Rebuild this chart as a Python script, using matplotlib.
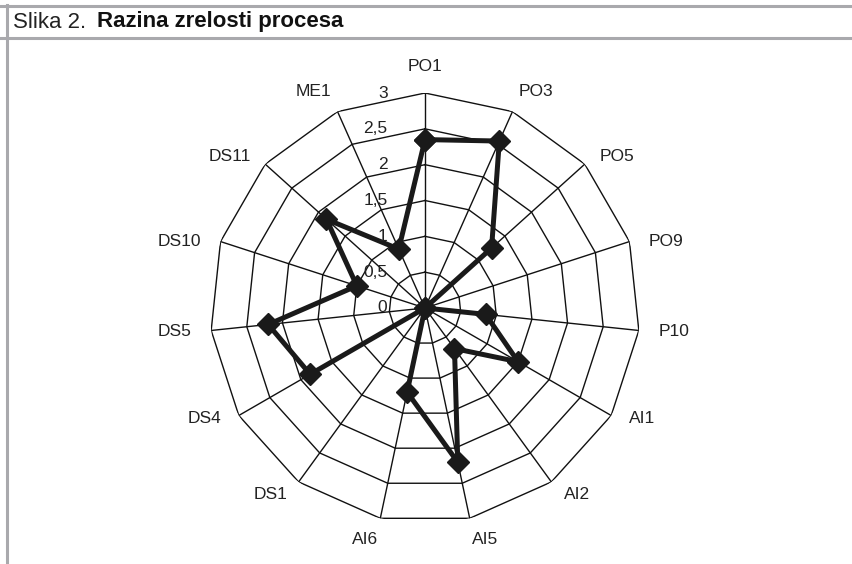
import numpy as np
import matplotlib
matplotlib.use("Agg")
import matplotlib.pyplot as plt
from matplotlib.lines import Line2D

categories = ["PO1", "PO3", "PO5", "PO9", "P10", "AI1", "AI2", "AI5",
              "AI6", "DS1", "DS4", "DS5", "DS10", "DS11", "ME1"]
values = [2.35, 2.55, 1.25, 0.0, 0.85, 1.5, 0.7, 2.2,
          1.2, 0.0, 1.85, 2.2, 1.0, 1.85, 0.9]
ring_levels = [0.5, 1.0, 1.5, 2.0, 2.5, 3.0]
tick_values = [0, 0.5, 1, 1.5, 2, 2.5, 3]
tick_labels = ["0", "0,5", "1", "1,5", "2", "2,5", "3"]
title_normal = "Slika 2."
title_bold = "Razina zrelosti procesa"

FONT = ["Liberation Sans", "DejaVu Sans"]
plt.rcParams["font.family"] = FONT

W, H = 852, 564
fig = plt.figure(figsize=(W / 100, H / 100), dpi=100)

# frame lines of the figure caption box
gray = "#a9a9ad"
fig.add_artist(Line2D([0, 1], [1 - 5.5 / H, 1 - 5.5 / H], color=gray, lw=2.2, transform=fig.transFigure))
fig.add_artist(Line2D([0, 1], [1 - 37.5 / H, 1 - 37.5 / H], color=gray, lw=2.2, transform=fig.transFigure))
fig.add_artist(Line2D([7 / W, 7 / W], [0, 1 - 4.5 / H], color=gray, lw=2.2, transform=fig.transFigure))

t1 = fig.text(13 / W, 1 - 22 / H, title_normal, fontsize=16, va="center", ha="left",
              color="#222222")
fig.canvas.draw()
bb = t1.get_window_extent()
fig.text(bb.x1 / W + 11 / W, 1 - 22 / H, title_bold, fontsize=16, va="center", ha="left",
         fontweight="bold", color="#111111")

# polar axes: centre (425, 308) px, radius 215 px
cx, cy, R = 425, 308, 215
ax = fig.add_axes([(cx - R) / W, (H - cy - R) / H, 2 * R / W, 2 * R / H], projection="polar")
ax.set_theta_zero_location("N")
ax.set_theta_direction(-1)
ax.set_ylim(0, 3)
ax.grid(False)
ax.set_xticks([])
ax.set_yticks([])
ax.spines["polar"].set_visible(False)
ax.patch.set_alpha(0)

n = len(categories)
angles = np.arange(n) * 2 * np.pi / n
closed = np.concatenate([angles, angles[:1]])

for r in ring_levels:
    ax.plot(closed, [r] * (n + 1), color="#111111", lw=1.0, zorder=1)
for a in angles:
    ax.plot([a, a], [0, 3], color="#111111", lw=1.0, zorder=1)

vals = list(values) + [values[0]]
ax.plot(closed, vals, color="#1a1a1a", lw=3.6, marker="D", markersize=11,
        markerfacecolor="#1a1a1a", markeredgecolor="#1a1a1a", zorder=3, clip_on=False)

# radial tick labels along the top spoke
for v, lab in zip(tick_values, tick_labels):
    ax.annotate(lab, xy=(0, v), xytext=(-27, 0), textcoords="offset points",
                ha="right", va="center", fontsize=12.5, color="#222222",
                annotation_clip=False)

# category labels
anns = []
for a, lab in zip(angles, categories):
    t = ax.annotate(lab, xy=(a, 3), xytext=(0, 0), textcoords="offset points",
                    ha="center", va="center", fontsize=12.5, color="#222222",
                    annotation_clip=False)
    anns.append(t)
fig.canvas.draw()
renderer = fig.canvas.get_renderer()
px2pt = 72 / 100
for a, t in zip(angles, anns):
    w = t.get_window_extent(renderer).width
    s, c = np.sin(a), np.cos(a)
    dx = np.sign(s) * np.sqrt(abs(s)) * (20 + w / 2) if abs(s) > 1e-6 else 0.0
    dy = 25 * c ** 3 + 3 * c ** 2 - 1
    t.xyann = (dx * px2pt, dy * px2pt)

fig.savefig("out.png", dpi=100, facecolor="white")
